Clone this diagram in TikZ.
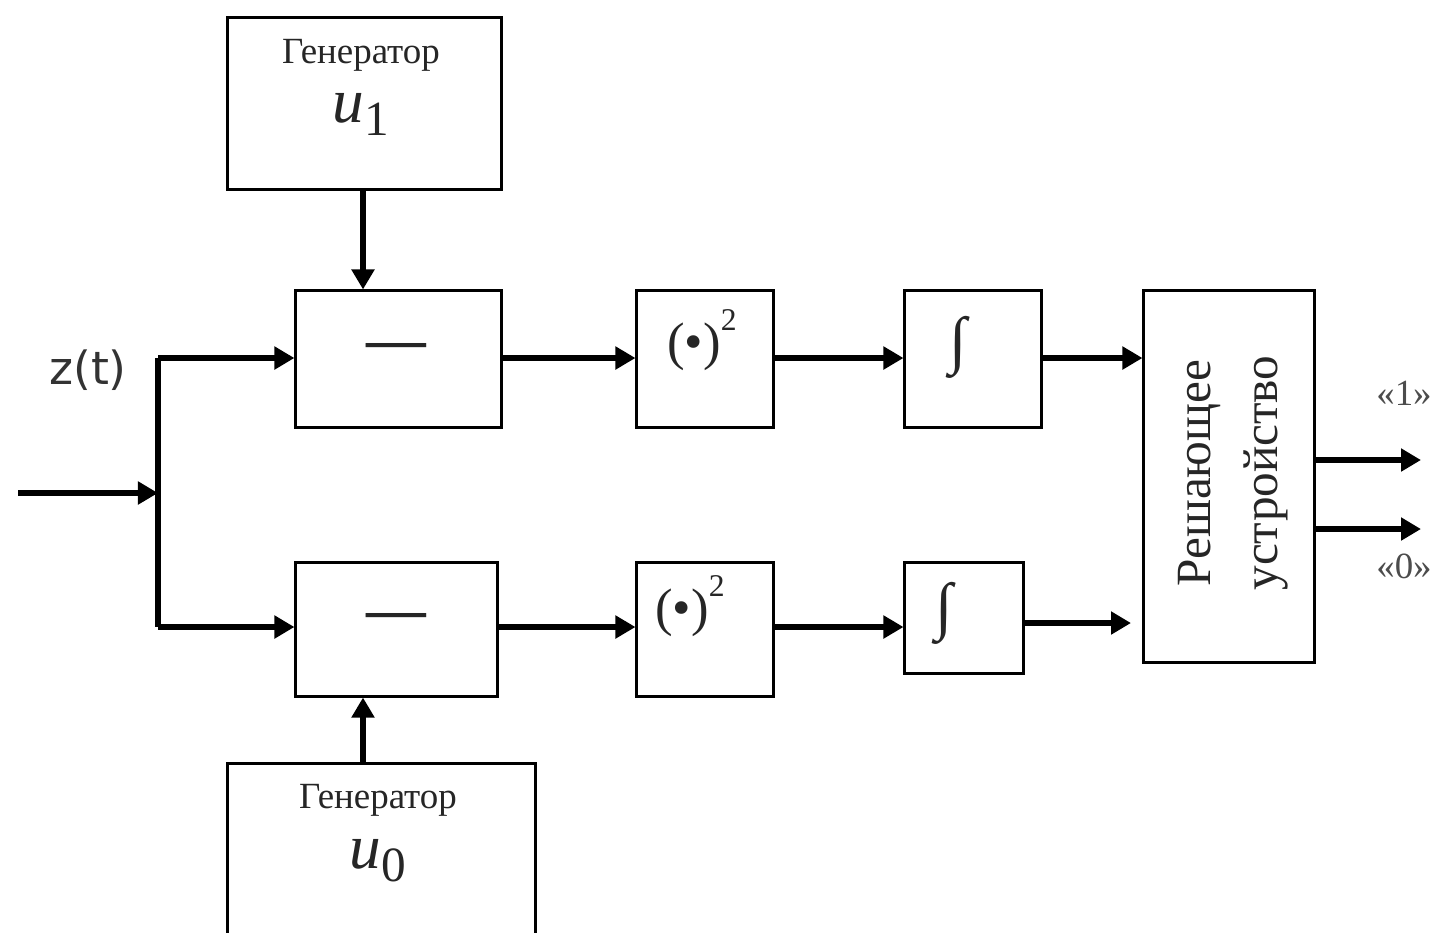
\documentclass[tikz,border=0pt]{standalone}
\usepackage{fontspec}
\setmainfont{Liberation Serif}
\newfontfamily\zfont{DejaVu Sans}
\usetikzlibrary{arrows.meta}

\begin{document}
\begin{tikzpicture}[x=0.01cm,y=-0.01cm,
  blk/.style={draw, line width=0.85pt, inner sep=0pt},
  wire/.style={line width=1.7pt},
  arr/.style={line width=1.7pt, -{Triangle[length=0.2cm,width=0.22cm]}},
  gtext/.style={inner sep=0pt, text=black!85, font=\fontsize{10.5}{12}\selectfont},
  utext/.style={inner sep=0pt, text=black!85},
  optext/.style={inner sep=0pt, text=black!85},
  outlbl/.style={inner sep=0pt, text=black!70, font=\fontsize{10.5}{12}\selectfont}]

\useasboundingbox (0,0) rectangle (1433,932);
\clip (0,0) rectangle (1433,932);

% blocks
\node[blk, minimum width=2.73cm, minimum height=1.71cm] (gen1) at (364.5,103.5) {};
\node[blk, minimum width=2.05cm, minimum height=1.36cm] (sub1) at (398.5,359) {};
\node[blk, minimum width=1.36cm, minimum height=1.36cm] (sq1) at (705,359) {};
\node[blk, minimum width=1.36cm, minimum height=1.36cm] (int1) at (973,359) {};
\node[blk, minimum width=1.70cm, minimum height=3.71cm] (dec) at (1229,476.5) {};
\node[blk, minimum width=2.01cm, minimum height=1.33cm] (sub2) at (396.5,629.5) {};
\node[blk, minimum width=1.36cm, minimum height=1.33cm] (sq2) at (705,629.5) {};
\node[blk, minimum width=1.18cm, minimum height=1.10cm] (int2) at (964,618) {};
\node[blk, minimum width=3.07cm, minimum height=1.96cm] (gen0) at (381.5,862) {};

% block texts
\node[gtext] (g1name) at (361,55) {Генератор};
\node[utext] (g1u) at (361,114) {\fontsize{18}{18}\selectfont\textit{u}\raisebox{-0.45ex}{\fontsize{14}{14}\selectfont 1}};
\node[gtext] (g0name) at (378,800) {Генератор};
\node[utext] (g0u) at (378,861) {\fontsize{18}{18}\selectfont\textit{u}\raisebox{-0.45ex}{\fontsize{14}{14}\selectfont 0}};

\node[optext, font=\bfseries\fontsize{17}{17}\selectfont] (m1) at (396,351) {—};
\node[optext, font=\bfseries\fontsize{17}{17}\selectfont] (m2) at (396,621) {—};
\node[optext, font=\fontsize{15}{15}\selectfont] (p1) at (702,340) {(•)\raisebox{1.2ex}{\fontsize{9}{9}\selectfont 2}};
\node[optext, font=\fontsize{15}{15}\selectfont] (p2) at (690,606) {(•)\raisebox{1.2ex}{\fontsize{9}{9}\selectfont 2}};
\node[optext, font=\fontsize{18}{18}\selectfont] (i1) at (958,347) {∫};
\node[optext, font=\fontsize{18}{18}\selectfont] (i2) at (944,613) {∫};

\node[optext, rotate=90, align=center, font=\fontsize{14}{19}\selectfont] (dtext) at (1233,473) {Решающее\\устройство};

\node[inner sep=0pt, text=black!80, font=\zfont\fontsize{13}{15}\selectfont] (zt) at (88,370) {z(t)};
\node[outlbl] (l1) at (1404,393) {«1»};
\node[outlbl] (l0) at (1404,566) {«0»};

% branch points
\coordinate (r1) at (0,358);
\coordinate (r0) at (0,627);
\coordinate (j1) at (158,358);
\coordinate (j0) at (158,627);
\coordinate (jin) at (158,493);
\coordinate (src) at (18,493);
\coordinate (gx) at (363,0);
\coordinate (ro) at (0,623);
\coordinate (e0) at (1131,623);
\coordinate (o1) at (1421,460);
\coordinate (o0) at (1421,529);

% connectors
\draw[arr] (src) -- (jin);
\draw[wire] (j1) -- (j0);
\draw[arr] (j1) -- (sub1.west |- r1);
\draw[arr] (j0) -- (sub2.west |- r0);
\draw[arr] (gen1.south -| gx) -- (sub1.north -| gx);
\draw[arr] (gen0.north -| gx) -- (sub2.south -| gx);

\draw[arr] (sub1.east |- r1) -- (sq1.west |- r1);
\draw[arr] (sq1.east |- r1) -- (int1.west |- r1);
\draw[arr] (int1.east |- r1) -- (dec.west |- r1);

\draw[arr] (sub2.east |- r0) -- (sq2.west |- r0);
\draw[arr] (sq2.east |- r0) -- (int2.west |- r0);
\draw[arr] (int2.east |- ro) -- (e0);

\draw[arr] (dec.east |- o1) -- (o1);
\draw[arr] (dec.east |- o0) -- (o0);
\end{tikzpicture}
\end{document}
